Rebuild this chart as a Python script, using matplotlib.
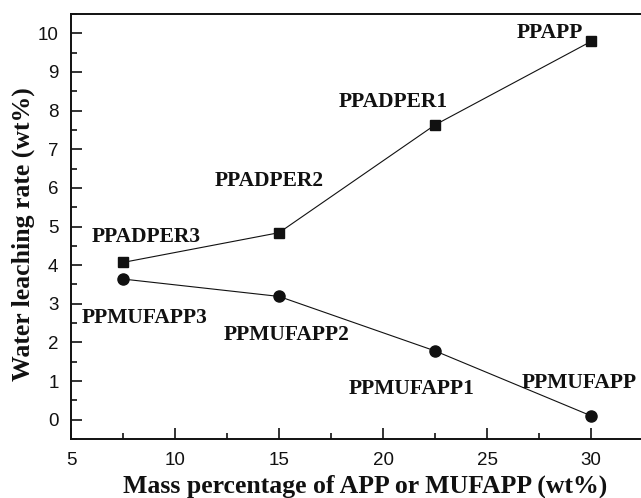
import matplotlib
matplotlib.use("Agg")
import matplotlib.pyplot as plt
from matplotlib.ticker import MultipleLocator

x_vals = [7.5, 15, 22.5, 30]
adper = [4.07, 4.84, 7.63, 9.79]
mufapp = [3.64, 3.19, 1.78, 0.10]

adper_labels = ["PPADPER3", "PPADPER2", "PPADPER1", "PPAPP"]
adper_label_pos = [(8.61, 4.72), (14.52, 6.19), (20.48, 8.21), (28.03, 10.0)]
muf_labels = ["PPMUFAPP3", "PPMUFAPP2", "PPMUFAPP1", "PPMUFAPP"]
muf_label_pos = [(8.53, 2.62), (15.36, 2.18), (21.39, 0.80), (29.42, 0.96)]

fig = plt.figure(figsize=(6.41, 4.98), dpi=100)
ax = fig.add_axes([71/641, 59/498, 570/641, 425/498])

ax.plot(x_vals, adper, color="#111111", lw=0.8, marker="s", ms=6.5, mfc="#111111", mec="#111111")
ax.plot(x_vals, mufapp, color="#111111", lw=0.8, marker="o", ms=8, mfc="#111111", mec="#111111")

serif = ["Liberation Serif", "DejaVu Serif"]
for lab, (tx, ty) in zip(adper_labels + muf_labels, adper_label_pos + muf_label_pos):
    ax.text(tx, ty, lab, ha="center", va="center", fontsize=15.5, fontweight="bold",
            family=serif, color="#111111")

ax.set_xlim(5, 32.4)
ax.set_ylim(-0.5, 10.5)
ax.xaxis.set_major_locator(MultipleLocator(5))
ax.xaxis.set_minor_locator(MultipleLocator(2.5))
ax.yaxis.set_major_locator(MultipleLocator(1))
ax.yaxis.set_minor_locator(MultipleLocator(0.5))
ax.tick_params(which="both", direction="in", top=False, right=False, width=1.2, color="#111111")
ax.tick_params(which="major", length=8, pad=9, labelsize=13.5, labelcolor="#111111")
ax.tick_params(which="minor", length=4.5)
for lbl in ax.get_xticklabels() + ax.get_yticklabels():
    lbl.set_family(["Liberation Sans", "DejaVu Sans"])

for s in ["left", "bottom", "top"]:
    ax.spines[s].set_linewidth(1.4)
    ax.spines[s].set_color("#111111")
ax.spines["right"].set_visible(False)

ax.set_xlabel("Mass percentage of APP or MUFAPP (wt%)", fontsize=18.5, fontweight="bold",
              family=serif, color="#111111", va="center")
ax.set_ylabel("Water leaching rate (wt%)", fontsize=18.5, fontweight="bold",
              family=serif, color="#111111", va="center")
ax.xaxis.set_label_coords((365-71)/570, -(486-439)/425)
ax.yaxis.set_label_coords(-(71-23)/570, (439-234)/425)

fig.savefig("out.png", dpi=100)
